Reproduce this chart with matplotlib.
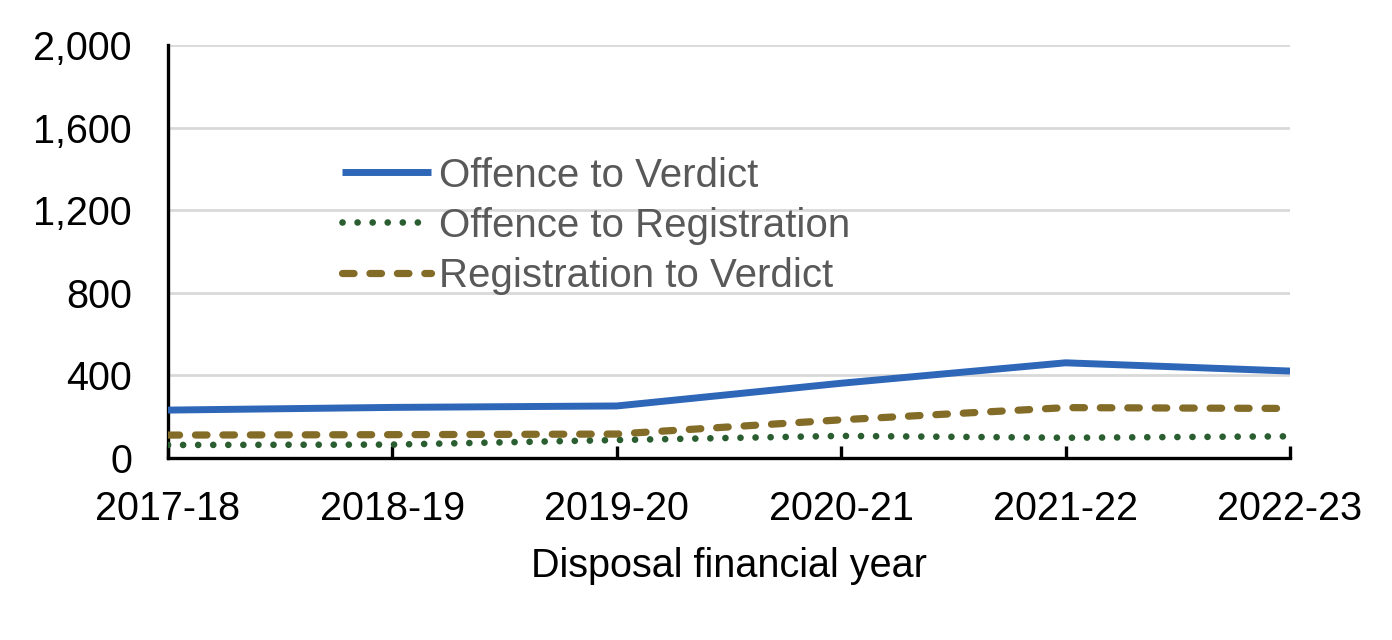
import matplotlib.pyplot as plt
import numpy as np

plt.rcParams['font.family'] = ['Liberation Sans', 'DejaVu Sans']

years = ["2017-18", "2018-19", "2019-20", "2020-21", "2021-22", "2022-23"]
offence_to_verdict = [232, 245, 252, 362, 461, 421]
offence_to_registration = [63, 65, 87, 107, 98, 105]
registration_to_verdict = [111, 113, 116, 185, 244, 240]

fig = plt.figure(figsize=(13.92, 6.4), dpi=100)
ax = fig.add_axes([168 / 1392, 1 - 458 / 640, 1122 / 1392, 413 / 640])

x = np.arange(len(years))
ax.plot(x, offence_to_verdict, color='#2E67B8', lw=5,
        solid_capstyle='butt', label='Offence to Verdict', zorder=3)
ax.plot(x, offence_to_registration, color='#2A5E30', lw=4.8,
        linestyle=(0, (0.01, 2.25)), dash_capstyle='round',
        label='Offence to Registration', zorder=3)
ax.plot(x, registration_to_verdict, color='#836B28', lw=5.2,
        linestyle=(0, (1.6, 2.2)), dash_capstyle='round',
        label='Registration to Verdict', zorder=3)

ax.set_xlim(0, 5)
ax.set_ylim(0, 2000)
ax.set_yticks([0, 400, 800, 1200, 1600, 2000])
ax.set_yticklabels(['0', '400', '800', '1,200', '1,600', '2,000'])
ax.set_xticks(x)
ax.set_xticklabels(years)

ax.grid(axis='y', color='#D9D9D9', lw=2, zorder=0)
ax.set_axisbelow(True)

for s in ['top', 'right']:
    ax.spines[s].set_visible(False)
for s in ['left', 'bottom']:
    ax.spines[s].set_linewidth(2.4)
    ax.spines[s].set_color('black')

ax.tick_params(axis='y', length=0, pad=26, labelsize=28.5)
ax.tick_params(axis='x', direction='in', length=9, width=2.4, pad=23, labelsize=28.5)

ax.set_xlabel('Disposal financial year', fontsize=28.5, labelpad=14)

leg = ax.legend(loc='upper left', bbox_to_anchor=(0.155, 0.73), frameon=False,
                fontsize=29, handlelength=2.2, handletextpad=0.2,
                labelspacing=0.3, borderpad=0, borderaxespad=0)
for t in leg.get_texts():
    t.set_color('#595959')

fig.savefig('out.png', dpi=100)
